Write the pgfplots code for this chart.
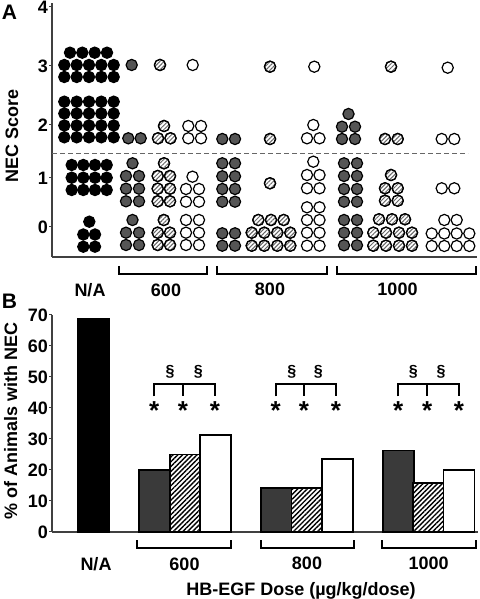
\documentclass[border=0pt]{standalone}
\usepackage{fontspec}
\setmainfont{Liberation Sans}
\usepackage{pgfplots}
\usepackage{pgfplotstable}
\pgfplotsset{compat=1.18}
\usetikzlibrary{patterns.meta}
\definecolor{dotgray}{RGB}{85,85,85}
\definecolor{bargray}{RGB}{58,58,58}

% Panel A: one row per animal (x = horizontal place, y = -vertical place in px)
\pgfplotstableread{
x y
70 -52.7
82.3 -52.7
94.7 -52.7
107 -52.7
64.3 -65
76.7 -65
89 -65
101.3 -65
113.7 -65
64.3 -77
76.7 -77
89 -77
101.3 -77
113.7 -77
64.3 -101.7
76.7 -101.7
89 -101.7
101.3 -101.7
113.7 -101.7
64.3 -113.5
76.7 -113.5
89 -113.5
101.3 -113.5
113.7 -113.5
64.3 -125.5
76.7 -125.5
89 -125.5
101.3 -125.5
113.7 -125.5
64.3 -137.3
76.7 -137.3
89 -137.3
101.3 -137.3
113.7 -137.3
71.7 -165
83.3 -165
95 -165
106.7 -165
71.7 -177.7
83.3 -177.7
95 -177.7
106.7 -177.7
71.7 -190
83.3 -190
95 -190
106.7 -190
89.3 -221.7
83.3 -234.5
95 -234.5
83.3 -246.7
95 -246.7
}\nadots

\pgfplotstableread{
x y
131.7 -65
128.3 -138.3
140.7 -138.3
132.5 -163.3
126 -176
139 -176
126 -188.7
139 -188.7
126 -201.3
139 -201.3
132.5 -220
126 -232.7
139 -232.7
126 -245
139 -245
222.3 -139
235 -139
222.3 -163.3
235 -163.3
222.3 -176.3
235 -176.3
222.3 -189
235 -189
222.3 -201.7
235 -201.7
222.3 -233.3
235 -233.3
222.3 -245.7
235 -245.7
348.5 -114
342 -126.7
355 -126.7
342 -139
355 -139
344 -163.3
357 -163.3
344 -176
357 -176
344 -189
357 -189
344 -201.7
357 -201.7
344 -220
357 -220
344 -232.7
357 -232.7
344 -245.3
357 -245.3
}\graydots

\pgfplotstableread{
x y
160 -65
164 -126
158 -138.3
170.5 -138.3
164 -163.3
157.7 -176
170 -176
157.7 -188.7
170 -188.7
157.7 -201.3
170 -201.3
163.8 -220
157.7 -232.7
170 -232.7
157.7 -245
170 -245
270 -66.7
270 -139
270 -183.3
258.3 -220
271 -220
283.7 -220
251.7 -232.7
264.3 -232.7
277.3 -232.7
290.3 -232.7
251.7 -245.7
264.3 -245.7
277.3 -245.7
290.3 -245.7
391 -66.7
385 -139
397.7 -139
391 -175
385 -188.3
397.7 -188.3
385 -200.7
397.7 -200.7
379 -219.3
392 -219.3
405 -219.3
373.3 -232.7
386 -232.7
399 -232.7
412 -232.7
373.3 -245.7
386 -245.7
399 -245.7
412 -245.7
}\hatchdots

\pgfplotstableread{
x y
192.7 -65
188.3 -126
201 -126
188.3 -138.3
201 -138.3
192.5 -176.7
186 -189
199 -189
186 -201.7
199 -201.7
186 -220
199 -220
186 -232.7
199 -232.7
186 -245
199 -245
314.3 -66.7
313.3 -125
307 -138.3
319.5 -138.3
313.3 -161.7
307 -175
319.5 -175
307 -188.3
319.5 -188.3
307 -207.3
319.5 -207.3
307 -220
319.5 -220
307 -232.7
319.5 -232.7
307 -245.7
319.5 -245.7
447.7 -67.7
441.7 -139
454.3 -139
441.7 -188.3
454.3 -188.3
444.3 -220
456.7 -220
431.7 -233.5
444.3 -233.5
456.7 -233.5
469.3 -233.5
431.7 -246
444.3 -246
456.7 -246
469.3 -246
}\opendots

% Panel B: % of animals with NEC
\pgfplotstableread{
x y
93.8 68.7
}\nabar
\pgfplotstableread{
x y
154.2 20.0
276.2 14.3
398.2 26.3
}\graybar
\pgfplotstableread{
x y
185.1 25.0
307.0 14.3
428.7 15.8
}\hatchbar
\pgfplotstableread{
x y
215.6 31.25
337.5 23.5
459.0 20.0
}\openbar

\begin{document}
\begin{tikzpicture}[font=\fontsize{18}{18}\selectfont\bfseries]
\useasboundingbox (0,0) rectangle (479pt,599pt);

% ---------- Panel A ----------
\begin{axis}[
  at={(52pt,342pt)}, anchor=south west, scale only axis,
  width=425pt, height=254pt,
  xmin=52, xmax=477, ymin=-257, ymax=-3,
  axis lines=left, axis line style={-, line width=1.2pt, black!75},
  xtick=\empty,
  ytick={-227,-178,-125,-66,-7},
  yticklabels={\textbf{0},\textbf{1},\textbf{2},\textbf{3},\textbf{4}},
  tick align=outside, major tick length=3pt,
  tick style={line width=1pt, black!75},
  /pgf/number format/assume math mode=true,
  yticklabel style={font=\fontsize{18}{18}\selectfont\bfseries, inner sep=1pt},
  clip=false,
]
\addplot[dashed, dash pattern=on 5pt off 3pt, line width=0.9pt, black!60]
  coordinates {(52,-153.3) (468,-153.3)};
\addplot[only marks, mark=*, mark size=5.6pt,
  mark options={draw=black, fill=black, line width=1.2pt}] table {\nadots};
\addplot[only marks, mark=*, mark size=5.6pt,
  mark options={draw=black, fill=dotgray, line width=1.2pt}] table {\graydots};
\addplot[only marks, mark=*, mark size=5.6pt,
  mark options={draw=black, fill=white, line width=1.2pt}] table {\hatchdots};
\addplot[only marks, mark=*, mark size=5.6pt,
  mark options={draw=black, line width=1.2pt,
  pattern={Lines[angle=45,distance=3pt,line width=1pt]}, pattern color=black!60}] table {\hatchdots};
\addplot[only marks, mark=*, mark size=5.6pt,
  mark options={draw=black, fill=white, line width=1.2pt}] table {\opendots};
\end{axis}

% ---------- Panel B ----------
\begin{axis}[
  at={(52pt,67pt)}, anchor=south west, scale only axis,
  width=426pt, height=217pt,
  xmin=52, xmax=478, ymin=0, ymax=70,
  axis lines=left, axis line style={-, line width=1.2pt, black!75},
  xtick=\empty,
  ytick={0,10,...,70},
  yticklabel={\textbf{\pgfmathprintnumber[assume math mode=true]{\tick}}},
  tick align=outside, major tick length=3pt,
  tick style={line width=1pt, black!75},
  yticklabel style={font=\fontsize{18}{18}\selectfont\bfseries, inner sep=1pt},
  clip=false,
]
\addplot[ybar, bar width=31pt, bar shift=0pt, draw=black, line width=1.8pt, fill=black] table {\nabar};
\addplot[ybar, bar width=31pt, bar shift=0pt, draw=black, line width=1.8pt, fill=bargray] table {\graybar};
\addplot[ybar, bar width=31pt, bar shift=0pt, draw=black, line width=1.8pt, fill=white,
  postaction={pattern={Lines[angle=45,distance=3.4pt,line width=1.4pt]}, pattern color=black}] table {\hatchbar};
\addplot[ybar, bar width=31pt, bar shift=0pt, draw=black, line width=1.8pt, fill=white] table {\openbar};
\end{axis}

% ---------- annotations (pixel coordinates, y downwards) ----------
\begin{scope}[x=1pt, y=-1pt, yshift=599pt, every node/.style={inner sep=0pt}]
\node[font=\fontsize{21}{21}\selectfont\bfseries] at (9.5,12.5) {A};
\node[font=\fontsize{21}{21}\selectfont\bfseries] at (9.5,301) {B};
\node[rotate=90, anchor=base] at (18,135.5) {NEC Score};
\node[rotate=90, anchor=base] at (17,421) {\% of Animals with NEC};

% Panel A group brackets
\node at (90,290) {N/A};
\draw[line width=2pt] (119,266) -- (119,274) -- (207,274) -- (207,266);
\node at (166,290) {600};
\draw[line width=2pt] (217,266) -- (217,274) -- (327,274) -- (327,266);
\node at (270,289) {800};
\draw[line width=2pt] (337,266) -- (337,274) -- (476,274) -- (476,266);
\node at (397.5,289) {1000};

% Panel B group brackets
\node at (96,564.5) {N/A};
\draw[line width=2pt] (136.5,540.5) -- (136.5,548.5) -- (231,548.5) -- (231,540.5);
\node at (184.5,564.5) {600};
\draw[line width=2pt] (261,540.5) -- (261,548.5) -- (353.5,548.5) -- (353.5,540.5);
\node at (307,563) {800};
\draw[line width=2pt] (382,540.5) -- (382,548.5) -- (476,548.5) -- (476,540.5);
\node at (428.7,563) {1000};
\node[anchor=base] at (301,595) {HB-EGF Dose (µg/kg/dose)};

% significance marks
\foreach \a/\b/\c in {154.3/183/215, 275.7/304/336, 398.3/427.3/459}{
  \draw[line width=2pt] (\a,396.5) -- (\a,384) -- (\c,384) -- (\c,396.5);
  \draw[line width=2pt] (\b,384) -- (\b,396.5);
  \foreach \s in {\a,\b,\c}
    \node[anchor=north, font=\fontsize{26}{26}\selectfont\bfseries] at (\s,401) {*};
}
\foreach \p in {170,198.3,291.7,318.3,413.3,441}
  \node[font=\fontsize{16}{16}\selectfont\bfseries] at (\p,372) {§};
\end{scope}
\end{tikzpicture}
\end{document}
